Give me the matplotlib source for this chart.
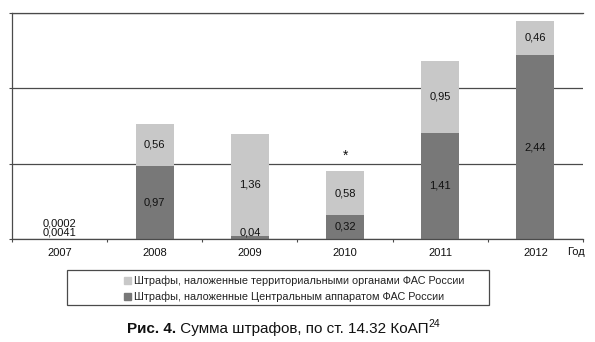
import numpy as np
import matplotlib
matplotlib.use("Agg")
import matplotlib.pyplot as plt
from matplotlib.patches import Rectangle, Patch

plt.rcParams['font.family'] = ['Liberation Sans', 'DejaVu Sans']

years = ['2007', '2008', '2009', '2010', '2011', '2012']
central = [0.0041, 0.97, 0.04, 0.32, 1.41, 2.44]
territorial = [0.0002, 0.56, 1.36, 0.58, 0.95, 0.46]
label_central = 'Штрафы, наложенные Центральным аппаратом ФАС России'
label_territorial = 'Штрафы, наложенные территориальными органами ФАС России'
marked_year = '2010'

dark = '#787878'
light = '#c8c8c8'
line_col = '#4a4a4a'


def fmt(v):
    s = f"{v:.4f}" if v < 0.01 else f"{v:.2f}"
    return s.replace('.', ',')


fig = plt.figure(figsize=(5.95, 3.42), dpi=100)
ax = fig.add_axes([12 / 595, 1 - 239 / 342, 571 / 595, 226 / 342])

x = np.arange(len(years))
central = np.array(central)
territorial = np.array(territorial)
ax.bar(x, central, width=0.4, color=dark, zorder=2)
ax.bar(x, territorial, width=0.4, bottom=central, color=light, zorder=2)

# value labels; tiny segments get pushed up from the baseline
for i in range(len(years)):
    small_offset = 5
    for bottom, h in [(0, central[i]), (central[i], territorial[i])]:
        if h < 0.1:
            ax.annotate(fmt(h), (x[i], 0), xytext=(0, small_offset), textcoords='offset points',
                        ha='center', va='center', fontsize=8, color='#111111', zorder=3)
            small_offset += 6.5
        else:
            ax.text(x[i], bottom + h / 2, fmt(h), ha='center', va='center',
                    fontsize=8, color='#111111', zorder=3)

i = years.index(marked_year)
ax.annotate('*', (x[i], central[i] + territorial[i]), xytext=(0, 11), textcoords='offset points',
            ha='center', va='center', fontsize=10, color='#111111')

ax.set_xlim(-0.5, len(years) - 0.5)
ax.set_ylim(0, 3)
ax.set_xticks(x)
ax.set_xticklabels(years, fontsize=8, color='#111111')
ax.set_xticks(np.arange(-0.5, len(years)), minor=True)
ax.tick_params(axis='x', which='major', length=0, pad=6.5)
ax.tick_params(axis='x', which='minor', length=2.5, width=0.8, color=line_col)
ax.set_yticks([0, 1, 2, 3])
ax.set_yticklabels([])
ax.tick_params(axis='y', length=2.5, width=0.8, color=line_col)
ax.yaxis.grid(True, color=line_col, linewidth=0.9)
ax.set_axisbelow(True)
for side in ['left', 'bottom', 'top']:
    ax.spines[side].set_color(line_col)
    ax.spines[side].set_linewidth(0.9)
ax.spines['right'].set_visible(False)

fig.text(576 / 595, 1 - 252 / 342, 'Год', ha='center', va='center', fontsize=8, color='#111111')

# legend in a box
fig.add_artist(Rectangle((67 / 595, 1 - 305 / 342), 422 / 595, 35 / 342, transform=fig.transFigure,
                         fill=False, edgecolor=line_col, linewidth=0.9))
handles = [Patch(color=light, label=label_territorial), Patch(color=dark, label=label_central)]
fig.legend(handles=handles, loc='center left', bbox_to_anchor=(119 / 595, 1 - 289 / 342),
           frameon=False, fontsize=7.8, handlelength=0.6, handleheight=0.6, handletextpad=0.25,
           labelspacing=0.5, borderpad=0, labelcolor='#222222')

# caption
t1 = fig.text(127 / 595, 1 - 329 / 342, 'Рис. 4.', fontweight='bold', fontsize=11, va='center',
              ha='left', color='#111111')
t2 = ax.annotate(' Сумма штрафов, по ст. 14.32 КоАП', xy=(1, 0), xycoords=t1, va='bottom', ha='left',
                 fontsize=11, color='#111111', annotation_clip=False)
ax.annotate('24', xy=(1, 0.5), xycoords=t2, va='bottom', ha='left', fontsize=7.5,
            color='#111111', annotation_clip=False)

fig.savefig('out.png', dpi=100)
